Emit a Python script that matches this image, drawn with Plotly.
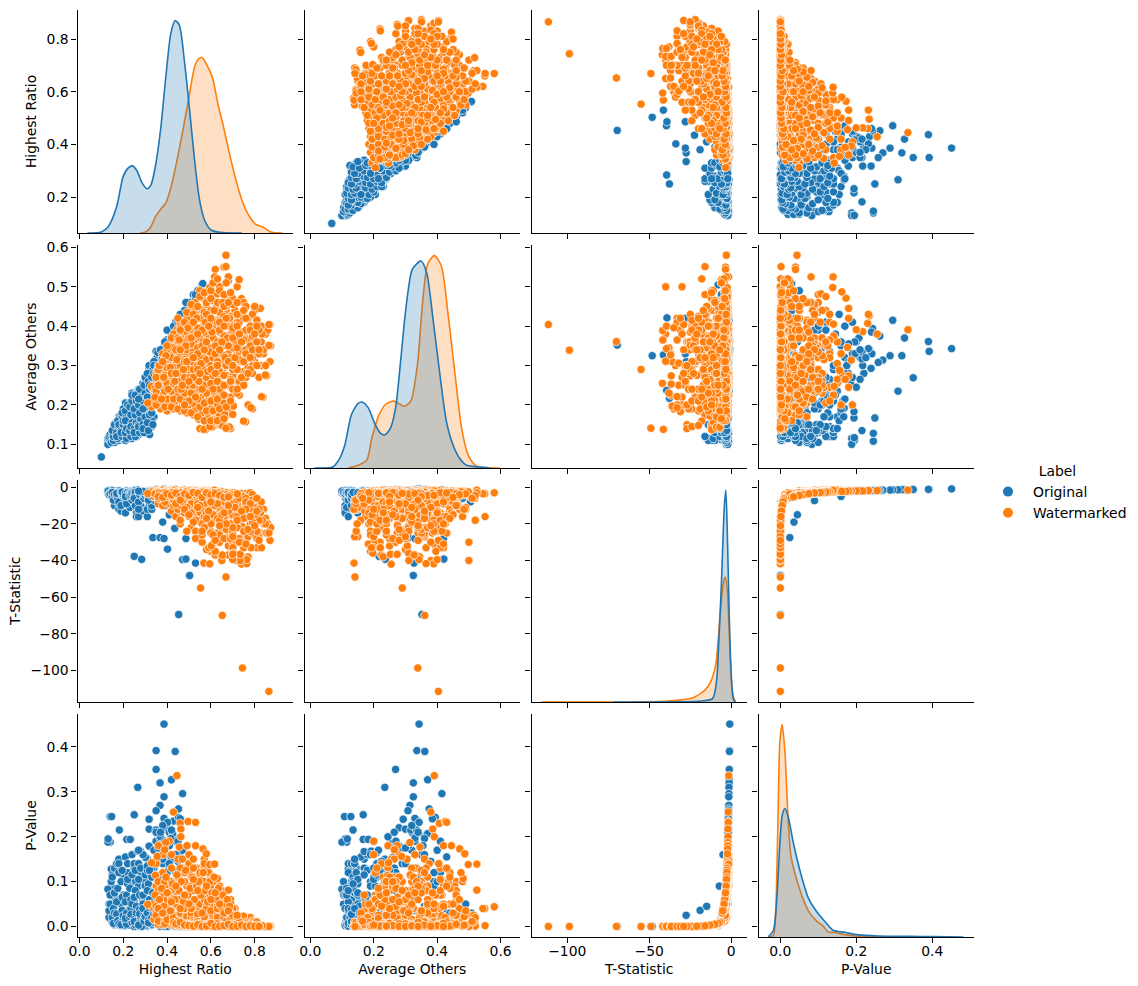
import plotly.graph_objects as go

# ---------- scatter values ----------
blue_highest = [
 .10,
 .13,.135,.14,.145,.135,.14,.15,.145,.13,.15,
 .16,.165,.17,.16,.17,.165,.16,.17,
 .18,.19,.20,.19,.18,.20,.19,.18,.20,.19,.18,
 .21,.22,.23,.22,.21,.23,.22,.21,.23,.22,.21,.23,
 .24,.25,.26,.25,.24,.26,.25,.24,.26,.25,.24,.26,
 .27,.28,.29,.28,.27,.29,.28,.27,.29,.28,.27,.29,
 .30,.31,.32,.31,.30,.32,.31,.30,.32,.31,.30,.32,
 .33,.34,.35,.34,.33,.35,.33,.34,.35,
 .36,.38,.40,.42,.44,.37,.39,.41,.43,.45,.38,.40,.42,.44,.36,.46,.39,.41,.43,.47,.48,.50,.52,.54,.56,.49,.51,.53,
 .386,.35,.437,.35,.42,.368,.266,.471,.386,.368,.452,.35,.25,.147,.452,.386,.318,.402,.318,.35,.182,.425,.417,.368,.216,.232,.13,.131,.318,.266,.301,
 .25,.284,.335,.368,.386,.402,.435,.486,.471,.486,.53,.503,.453,.38,.41,.43,.39,
 .563,.53,.486,.46,.44,.415,.39,.358,.34,.319,.30,.27,.25,.23,.20,.18,.16,
 .14,.135,.145,.14,
 .155,.15,.16,.155,.15,.16,
 .175,.17,.18,.175,.17,.18,
 .195,.19,.20,.195,.19,.20,.195,
 .215,.21,.22,.215,.21,.22,.215,.21,
 .235,.23,.24,.235,.23,.24,.235,.24,
 .255,.25,.26,.255,.25,.26,.255,.25,
 .275,.27,.28,.275,.27,.28,.275,.27,
 .295,.29,.30,.295,.29,.30,.295,.29,.30,
 .315,.31,.32,.315,.31,.32,.315,.31,
 .335,.33,.34,.335,.33,.34,
 .36,.38,.40,.34,.37,.39,.41,.35,.42,.44,.38,.36,.33,.31,.40,.43,.45,.35,.29,.27,.32,.37,.46,.41,
]
blue_others = [
 .068,
 .11,.105,.115,.12,.118,.108,.13,.125,.10,.112,
 .11,.125,.135,.145,.12,.155,.105,.115,
 .11,.125,.14,.155,.17,.185,.115,.13,.15,.165,.145,
 .11,.12,.13,.145,.16,.175,.19,.205,.115,.14,.18,.16,
 .115,.13,.15,.165,.18,.195,.21,.23,.12,.14,.20,.175,
 .125,.14,.155,.17,.185,.20,.22,.24,.13,.16,.21,.255,
 .13,.14,.16,.18,.20,.22,.245,.265,.125,.15,.19,.28,
 .145,.17,.20,.23,.26,.29,.16,.21,.31,
 .32,.29,.27,.30,.33,.28,.31,.335,.36,.38,.345,.365,.39,.41,.30,.43,.28,.32,.34,.40,.44,.46,.48,.49,.505,.42,.45,.47,
 .343,.336,.361,.269,.37,.325,.235,.415,.325,.314,.375,.308,.167,.128,.394,.33,.293,.343,.30,.317,.135,.37,.36,.33,.167,.183,.10,.117,.28,.192,.26,
 .217,.237,.29,.31,.33,.306,.37,.42,.314,.421,.327,.325,.352,.33,.36,.39,.35,
 .508,.48,.46,.43,.41,.386,.36,.333,.31,.269,.27,.235,.225,.205,.19,.165,.15,
 .11,.12,.105,.125,
 .11,.125,.14,.12,.135,.15,
 .115,.13,.145,.16,.12,.15,
 .12,.135,.15,.17,.13,.16,.18,
 .115,.13,.15,.17,.185,.20,.14,.16,
 .12,.135,.155,.175,.195,.21,.145,.225,
 .12,.14,.155,.175,.19,.21,.225,.13,
 .13,.15,.165,.18,.20,.22,.24,.145,
 .13,.15,.17,.19,.21,.23,.25,.14,.27,
 .135,.155,.175,.195,.22,.24,.26,.28,
 .15,.18,.21,.24,.27,.30,
 .21,.235,.255,.28,.245,.27,.30,.225,.335,.36,.32,.30,.20,.22,.39,.40,.41,.265,.19,.215,.25,.34,.385,.355,
]
blue_tstat = [
 None,
 -1.8,-3.5,-1.9,-2.4,-4,-1.7,-2.6,-3,-3,-6,
 -10,-3,-4,-2.5,-2,-6,-3,-5,
 -12,-3,-2.5,-5,-2,-7,-13,-2.3,-3,-4,-9,
 -14,-2.5,-5,-3,-2.2,-8,-2.6,-4,-11,-2.4,-6,-3.5,
 -5,-2.5,-14,-3,-2.2,-9,-2.6,-4,-16,-2.3,-7,-3.5,
 -2.8,-10,-3,-2.2,-16,-4,-2.5,-6,-3.5,-7,-2.4,-13,
 -3,-2.3,-8,-16,-2.5,-5,-12,-2.2,-3.5,-6,-2.6,-9,
 -4,-2.4,-2,-7,-12,-3,-10,-2.6,-5,
 -2.2,-2.4,-2.6,-2.2,-2,-2.3,-2.1,-2.5,-2.1,-2.3,-2.7,-3,-2.9,-2.6,-3.2,-2.1,-2,-2,-1.9,-2.1,-4,-5,-6,-3,-8,-3.5,-2.7,-4.5,
 -.9,-1.1,-1.1,-1.2,-1.3,-1.3,-1.4,-1.4,-1.5,-1.5,-1.6,-1.6,-1.7,-1.7,-1.7,-1.7,-1.8,-1.8,-1.9,-1.9,-1.9,-2,-2,-2,-2,-2,-2.1,-2.1,-2.2,-2.3,-2.3,
 -37.7,-39.4,-27.5,-27.5,-28,-33.8,-22.4,-28,-39.5,-39.2,-41.4,-48.2,-69.5,-19,-15,-7.3,-5,
 -5,-6,-3.5,-8,-2.8,-4,-10,-3,-7,-2.8,-2.5,-4,-3,-2.5,-4.5,-6,-3,
 -3,-4,-2.8,-3.5,
 -3.5,-5,-3,-7,-2.8,-4,
 -3,-4.5,-2.7,-6,-3.3,-8,
 -3.6,-2.7,-5,-3,-10,-4,-2.6,
 -3,-6,-2.7,-4,-3.2,-2.8,-9,-5,
 -3.5,-2.7,-7,-3,-4.5,-2.6,-4,-3.2,
 -2.8,-5,-3.2,-10,-3,-4,-2.7,-6,
 -3.4,-2.7,-5,-3,-8,-2.6,-4,-12,
 -4,-3,-2.7,-5,-3.2,-2.8,-6,-3.4,-4.5,
 -2.8,-4,-3,-5.5,-2.6,-3.4,-7,-2.9,
 -3,-5,-2.5,-3.5,-2.7,-4,
 -2.2,-2.3,-2.1,-2.2,-2,-2.1,-2.3,-2.4,-2,-2.2,-1.9,-2.3,-2.6,-2.5,-2.4,-2.6,-2,-1.9,-2.2,-2.1,-2.4,-1.9,-1.8,-2.1,
]
blue_pvalue = [
 None,
 .195,.05,.188,.128,.02,.245,.115,.09,.083,.009,
 .004,.06,.025,.13,.14,.012,.07,.02,
 .003,.05,.11,.018,.15,.009,.002,.14,.07,.03,.005,
 .002,.12,.02,.06,.155,.007,.10,.03,.003,.14,.012,.04,
 .02,.10,.002,.05,.16,.005,.13,.03,.001,.14,.01,.04,
 .09,.004,.06,.167,.001,.025,.12,.012,.04,.008,.14,.002,
 .06,.15,.007,.001,.11,.02,.003,.13,.03,.011,.09,.005,
 .03,.13,.19,.01,.003,.05,.005,.11,.02,
 .17,.14,.12,.15,.19,.16,.18,.13,.2,.145,.11,.09,.10,.12,.08,.155,.22,.21,.235,.17,.03,.02,.015,.05,.007,.04,.09,.025,
 .451,.392,.39,.35,.327,.32,.31,.296,.289,.27,.262,.258,.249,.245,.243,.241,.239,.232,.217,.215,.215,.207,.196,.197,.194,.194,.188,.195,.179,.168,.154,
 .0001,.0001,.025,.0005,.0004,.0002,.0006,.0004,.0001,.0001,.0001,.0001,.0001,.036,.045,.09,.16,
 .03,.02,.05,.008,.07,.03,.005,.06,.009,.08,.1,.03,.06,.09,.02,.01,.05,
 .07,.035,.10,.05,
 .04,.02,.075,.007,.11,.03,
 .085,.028,.12,.013,.055,.006,
 .036,.10,.017,.065,.004,.024,.125,
 .07,.011,.095,.03,.055,.105,.005,.018,
 .04,.085,.009,.06,.022,.115,.027,.05,
 .08,.016,.045,.004,.065,.03,.125,.011,
 .038,.105,.018,.07,.006,.13,.028,.003,
 .027,.07,.115,.016,.05,.09,.012,.04,.022,
 .095,.03,.06,.014,.125,.042,.008,.08,
 .075,.02,.14,.04,.11,.027,
 .165,.15,.185,.17,.20,.19,.14,.145,.215,.16,.225,.175,.13,.135,.12,.10,.19,.21,.16,.17,.125,.21,.24,.18,
]

orange_highest = [
 .33,.34,.35,.34,.36,.35,.36,
 .37,.38,.38,.39,.37,.38,.39,.38,
 .40,.41,.42,.41,.40,.42,.41,.40,.42,
 .43,.44,.45,.44,.43,.45,.44,.43,.45,.44,
 .46,.47,.48,.47,.46,.48,.47,.46,.48,.47,.46,
 .49,.50,.51,.50,.49,.51,.50,.49,.51,.50,.49,.51,
 .52,.53,.54,.53,.52,.54,.53,.52,.54,.53,.52,.54,.53,
 .55,.56,.57,.56,.55,.57,.56,.55,.57,.56,.55,.57,.56,.55,
 .58,.59,.60,.59,.58,.60,.59,.58,.60,.59,.58,.60,.59,.58,.60,
 .61,.62,.63,.62,.61,.63,.62,.61,.63,.62,.61,.63,.62,.61,.63,
 .64,.65,.66,.65,.64,.66,.65,.64,.66,.65,.64,.66,.65,.64,.66,
 .67,.68,.69,.68,.67,.69,.68,.67,.69,.68,.67,.69,.68,
 .70,.71,.72,.71,.70,.72,.71,.70,.72,.71,.70,.72,
 .73,.74,.75,.74,.73,.75,.74,.73,.75,.74,
 .76,.77,.78,.77,.76,.78,.77,.76,.78,
 .79,.80,.81,.80,.79,.81,.80,.79,
 .82,.83,.84,.83,.85,.84,.86,.87,.85,.83,
 .838,.855,.79,.758,.69,.576,.604,.627,.608,.544,.67,.70,.873,.87,.669,.669,.62,.568,.595,.618,.652,.684,.749,.638,.664,.70,.703,.77,.783,.831,.849,.865,.865,.826,.729,
 .553,.652,.744,.669,.595,.764,.764,.734,.70,.652,.62,.602,.734,.70,
 .445,.429,.46,.496,.53,.463,.463,.394,.36,.389,.355,.329,.347,.312,.456,.491,.53,.564,.579,.595,.617,.63,.68,.749,.834,
 .35,.36,.35,.36,.35,.36,
 .39,.40,.39,.40,.39,.40,.39,.40,
 .42,.43,.42,.43,.42,.43,.42,.43,.42,
 .45,.46,.45,.46,.45,.46,.45,.46,.45,.46,.45,
 .48,.49,.48,.49,.48,.49,.48,.49,.48,.49,.48,.49,
 .51,.52,.51,.52,.51,.52,.51,.52,.51,.52,.51,.52,.51,
 .54,.55,.54,.55,.54,.55,.54,.55,.54,.55,.54,.55,.54,.55,
 .57,.58,.57,.58,.57,.58,.57,.58,.57,.58,.57,.58,.57,.58,.57,
 .60,.61,.60,.61,.60,.61,.60,.61,.60,.61,.60,.61,.60,.61,.60,.61,
 .63,.64,.63,.64,.63,.64,.63,.64,.63,.64,.63,.64,.63,.64,.63,
 .66,.67,.66,.67,.66,.67,.66,.67,.66,.67,.66,.67,.66,.67,
 .69,.70,.69,.70,.69,.70,.69,.70,.69,.70,.69,
 .72,.73,.72,.73,.72,.73,.72,.73,.72,
 .75,.76,.75,.76,.75,.76,.75,.76,
 .78,.79,.78,.79,.78,.79,
 .81,.82,.81,.82,.81,
 .345,.365,.375,.385,.395,.405,.415,.425,.435,.445,.455,.465,.475,.485,.495,.505,.515,.525,.535,.545,.555,.565,.575,.585,.595,.605,.615,.625,.635,.645,.655,.665,.675,.685,
 .36,.38,.40,.42,.44,.46,.48,.50,.52,.54,.56,.58,.60,.62,.64,.66,.68,
 .50,.52,.54,.56,.58,.60,.62,.64,.66,.68,.70,.72,.74,.76,.78,.80,
 .47,.49,.51,.53,.55,.57,.59,.61,.63,.65,.67,.69,.71,.73,.75,.77,.79,.81,
 .44,.46,.48,.50,.52,.54,.56,.58,.60,.62,.64,.66,.68,.70,.72,.74,.76,.78,.80,.82,
]
orange_others = [
 .195,.21,.225,.24,.26,.28,.20,
 .19,.205,.225,.245,.265,.285,.31,.33,
 .185,.20,.22,.24,.26,.28,.30,.325,.35,
 .19,.21,.23,.25,.27,.29,.31,.335,.36,.385,
 .185,.205,.225,.245,.265,.285,.305,.33,.355,.38,.41,
 .18,.20,.22,.24,.26,.28,.30,.325,.35,.375,.40,.44,
 .175,.19,.21,.23,.255,.275,.295,.32,.34,.365,.39,.42,.46,
 .14,.18,.20,.22,.245,.265,.285,.31,.33,.355,.38,.405,.44,.49,
 .15,.17,.19,.215,.24,.26,.28,.30,.325,.35,.37,.395,.42,.455,.50,
 .145,.175,.20,.225,.25,.27,.295,.32,.34,.365,.39,.415,.445,.48,.52,
 .15,.18,.205,.23,.255,.28,.305,.33,.355,.38,.405,.43,.46,.50,.55,
 .145,.19,.22,.25,.275,.30,.33,.355,.38,.41,.44,.47,.515,
 .20,.235,.26,.285,.31,.335,.36,.385,.41,.44,.47,.50,
 .225,.255,.285,.31,.335,.36,.385,.41,.44,.47,
 .27,.295,.32,.345,.37,.395,.42,.45,.35,
 .28,.31,.335,.36,.385,.41,.44,.30,
 .27,.30,.33,.36,.38,.34,.39,.31,.30,.40,
 .22,.274,.19,.157,.14,.1375,.144,.157,.183,.164,.174,.20,.35,.404,.551,.58,.544,.138,.145,.159,.148,.144,.159,.172,.176,.176,.197,.20,.193,.221,.276,.351,.404,.445,.518,
 .29,.361,.339,.141,.389,.365,.343,.311,.40,.327,.396,.306,.253,.274,
 .391,.38,.407,.426,.43,.386,.391,.314,.274,.265,.288,.247,.244,.205,.346,.42,.445,.471,.487,.498,.525,.482,.525,.46,.38,
 .20,.215,.235,.25,.27,.29,
 .195,.215,.235,.255,.275,.295,.32,.34,
 .195,.215,.235,.255,.275,.295,.32,.345,.37,
 .19,.215,.24,.26,.28,.30,.32,.345,.37,.395,.42,
 .185,.21,.23,.25,.27,.295,.315,.34,.36,.385,.41,.435,
 .18,.205,.23,.25,.27,.29,.31,.335,.355,.38,.405,.43,.455,
 .17,.195,.215,.24,.26,.28,.30,.32,.345,.37,.395,.42,.45,.475,
 .16,.185,.205,.23,.25,.27,.29,.315,.34,.36,.385,.41,.435,.46,.485,
 .16,.185,.21,.235,.255,.275,.30,.32,.345,.37,.39,.415,.44,.465,.49,.51,
 .16,.19,.215,.24,.26,.285,.31,.335,.36,.385,.41,.435,.46,.49,.52,
 .165,.195,.225,.25,.275,.30,.325,.35,.375,.40,.425,.45,.48,.51,
 .21,.24,.265,.29,.32,.345,.37,.395,.425,.455,.485,
 .23,.26,.29,.315,.345,.37,.40,.43,.46,
 .25,.28,.31,.34,.365,.39,.42,.45,
 .29,.32,.35,.375,.40,.43,
 .30,.33,.36,.39,.415,
 .22,.30,.215,.27,.325,.24,.295,.345,.26,.315,.365,.24,.29,.35,.395,.27,.325,.375,.42,.26,.305,.36,.41,.285,.335,.385,.44,.30,.35,.40,.46,.32,.37,.42,
 .25,.31,.35,.28,.34,.39,.31,.37,.41,.29,.35,.43,.47,.33,.39,.45,.35,
 .21,.27,.33,.39,.23,.29,.35,.41,.25,.31,.37,.43,.27,.33,.39,.45,
 .25,.31,.37,.22,.28,.34,.40,.24,.30,.36,.42,.26,.32,.38,.44,.28,.34,.40,
 .28,.34,.20,.26,.32,.38,.24,.36,.42,.28,.34,.40,.46,.30,.24,.36,.42,.32,.38,.34,
]
orange_tstat = [
 -2,-5,-1.5,-3,-7,-2.5,-9,
 -4,-2,-10,-1.5,-6,-2.5,-3,-1.5,
 -8,-2,-13,-2.5,-5,-1.5,-9,-3,-2,
 -5,-16,-2,-3,-1.5,-11,-2.5,-7,-1.5,-4,
 -20,-2.5,-6,-1.8,-13,-3,-2,-18,-1.5,-4,-2.5,
 -9,-1.8,-22,-3,-7,-1.5,-16,-2.5,-5,-1.6,-24,-2,
 -3,-24,-2,-12,-1.6,-6,-28,-2.5,-10,-1.7,-4,-18,-2.2,
 -7,-7,-2.2,-30,-3,-1.6,-14,-4,-2,-26,-8,-1.8,-3,-12,
 -12,-2.6,-35,-5,-20,-2,-9,-34,-3,-2,-16,-6,-33,-2.2,-4,
 -8,-3,-10,-37,-2.5,-14,-6,-2.2,-25,-4,-31,-2.4,-8,-2,-18,
 -27,-6,-2.8,-38,-11,-3,-22,-2.6,-7,-40,-4,-15,-2.4,-30,-3.5,
 -12,-26,-2.6,-32,-8,-3,-37,-5,-3.2,-18,-2.7,-12,-4,
 -30,-6,-16,-3,-36,-9,-3.5,-25,-5,-13,-3,-40,
 -8,-42,-4,-21,-6,-27,-3.5,-14,-7,-5,
 -28,-5,-14,-38,-7,-20,-9,-3.5,-3,
 -10,-22,-8,-26,-6,-33,-11,-4,
 -14,-8,-20,-25,-17,-12,-20,-22,-25,-8,
 -19,-25,-14,-11,-27,-12,-9,-6,-31,-4,-16,-33,-22,-29,-16,-3,-3.5,-41.4,-24,-18,-20,-7,-5,-13,-10,-8,-36,-27,-33,-33,-20,-25,-111.5,-14,-6,
 -55,-70,-98.7,-49,-41.8,-41.7,-39.5,-40,-39.5,-37,-35,-32,-36.6,-36.6,
 -1.5,-1.8,-1.9,-1.8,-1.8,-2,-2,-2.1,-2.2,-2.2,-2.3,-2.5,-2.6,-3.4,-2.2,-2.1,-2.1,-2.2,-2.3,-2.5,-1.6,-2.7,-3,-5,-18,
 -3,-2.5,-4,-6,-3.5,-2.7,
 -6,-3,-2.6,-4.5,-8,-3,-2.8,-5,
 -3.5,-10,-2.7,-6,-3,-4.5,-2.5,-7,-3,
 -12,-4,-3,-8,-2.6,-5,-3,-10,-2.8,-4,-6,
 -14,-3,-6,-4,-2.7,-10,-3.5,-6,-2.6,-4.5,-3,-8,
 -5,-3,-8,-2.6,-4,-12,-3,-5.5,-2.8,-7,-3.5,-2.5,-9,
 -9,-3.5,-5,-14,-2.7,-6,-3,-18,-4,-2.6,-10,-3.2,-6,-2.5,
 -5,-3,-16,-8,-3.5,-2.8,-12,-5,-3,-22,-6,-3.4,-2.7,-9,-4,
 -3.5,-7,-24,-3,-11,-5,-2.9,-15,-7,-3.2,-20,-4.5,-2.7,-10,-3.6,-6,
 -5,-19,-3.2,-9,-4,-26,-3.4,-12,-5.5,-3,-17,-7,-3,-11,-4.5,
 -6,-15,-3.3,-10,-21,-4,-13,-3.5,-8,-23,-4.5,-3,-16,-6,
 -20,-4,-13,-24,-5,-15,-3.6,-9,-20,-4,-12,
 -12,-28,-7,-18,-4,-12,-22,-6,-3.6,
 -17,-9,-24,-11,-33,-6,-16,-8,
 -17,-7,-23,-13,-9,-25,
 -28,-12,-6,-18,-24,
 -3.6,-3,-3.3,-4.2,-2.8,-3.4,-4.5,-2.9,-3.8,-2.7,-3.2,-3,-4,-2.6,-3.5,-3.2,-2.8,-3.9,-3,-2.9,-3.6,-2.7,-3.3,-4.1,-3,-3.4,-2.8,-3.8,-3.1,-4.4,-3.5,-4.2,-3.9,-4.6,
 -5,-5.5,-3.6,-4.3,-3.2,-5,-3.7,-4.5,-2.9,-3.3,-5.6,-3.1,-4,-3.5,-4.4,-5.5,-5.2,
 -12,-16,-9,-20,-14,-25,-10,-18,-28,-13,-22,-16,-30,-12,-24,-15,
 -8,-11,-14,-18,-10,-22,-13,-26,-9,-15,-20,-28,-11,-30,-17,-23,-19,-13,
 -9,-7,-12,-15,-19,-11,-24,-17,-8,-29,-21,-14,-10,-27,-18,-13,-31,-16,-21,-29,
]
orange_pvalue = [
 .05,.015,.14,.04,.01,.09,.005,
 .02,.12,.004,.18,.012,.07,.03,.16,
 .007,.19,.003,.06,.02,.16,.006,.04,.10,
 .018,.002,.11,.05,.09,.003,.08,.009,.15,.025,
 .001,.07,.012,.13,.003,.04,.15,.001,.12,.02,.13,
 .006,.16,.0005,.05,.01,.11,.002,.09,.017,.14,.0005,.12,
 .04,.0005,.13,.004,.15,.014,.0003,.08,.005,.13,.022,.001,.10,
 .01,.01,.06,.0002,.035,.15,.003,.02,.13,.0005,.008,.14,.05,.004,
 .004,.07,.0002,.016,.001,.11,.006,.0002,.04,.12,.002,.012,.0002,.09,.026,
 .008,.05,.005,.0001,.08,.003,.014,.11,.0004,.03,.0002,.07,.008,.10,.001,
 .0003,.012,.06,.0001,.004,.045,.0006,.09,.01,.0001,.03,.002,.08,.0002,.04,
 .002,.0004,.06,.0002,.008,.05,.0001,.018,.035,.001,.05,.003,.025,
 .0002,.012,.002,.04,.0001,.006,.03,.0005,.015,.003,.04,.0001,
 .008,.0001,.02,.0008,.012,.0003,.02,.003,.009,.016,
 .0003,.015,.002,.0001,.008,.0006,.005,.018,.02,
 .004,.0005,.005,.0003,.01,.0001,.003,.012,
 .001,.002,.0003,.0002,.0005,.001,.0003,.0002,.0001,.002,
 .0008,.0002,.001,.003,.0003,.002,.005,.012,.0002,.02,.001,.0002,.0002,.0001,.002,.044,.04,.0001,.0005,.001,.0008,.009,.015,.002,.004,.006,.0001,.0002,.0001,.0001,.0003,.0001,.0001,.001,.012,
 .0001,.0001,.0001,.0001,.0001,.0001,.0001,.0001,.0001,.0001,.0001,.0001,.0001,.0001,
 .336,.255,.23,.234,.232,.217,.2,.187,.18,.171,.156,.142,.114,.049,.177,.18,.18,.173,.162,.138,.139,.107,.081,.023,.002,
 .03,.08,.025,.012,.045,.10,
 .012,.05,.09,.02,.006,.06,.10,.015,
 .035,.005,.10,.012,.065,.02,.13,.009,.08,
 .003,.025,.07,.007,.11,.015,.06,.004,.09,.03,.012,
 .002,.055,.012,.03,.10,.004,.04,.011,.12,.022,.07,.006,
 .02,.06,.006,.11,.03,.003,.05,.014,.09,.009,.04,.13,.005,
 .005,.04,.018,.002,.09,.012,.055,.001,.027,.11,.004,.05,.011,.12,
 .016,.05,.001,.006,.035,.09,.003,.014,.06,.0005,.011,.04,.1,.005,.022,
 .03,.009,.0005,.06,.004,.018,.08,.002,.008,.045,.0008,.024,.085,.004,.035,.012,
 .015,.001,.05,.005,.025,.0003,.04,.003,.012,.07,.001,.008,.065,.003,.02,
 .012,.002,.045,.004,.0007,.025,.002,.035,.006,.0005,.02,.05,.001,.011,
 .001,.025,.002,.0005,.016,.002,.03,.005,.0008,.024,.003,
 .003,.0003,.008,.001,.02,.003,.0006,.01,.025,
 .001,.005,.0005,.004,.0002,.01,.001,.006,
 .001,.008,.0005,.002,.005,.0003,
 .0002,.002,.01,.001,.0004,
 .07,.06,.085,.045,.11,.075,.035,.095,.06,.115,.08,.10,.055,.125,.07,.085,.11,.06,.09,.10,.07,.12,.08,.055,.10,.075,.11,.06,.085,.045,.07,.05,.06,.045,
 .04,.03,.075,.055,.09,.04,.07,.05,.105,.08,.03,.09,.06,.075,.05,.03,.035,
 .003,.0015,.006,.0007,.002,.0002,.005,.001,.0002,.003,.0005,.0015,.0001,.003,.0003,.002,
 .007,.004,.002,.001,.005,.0005,.003,.0002,.006,.002,.0007,.0002,.004,.0001,.001,.0004,.0008,.003,
 .006,.009,.003,.002,.0008,.004,.0003,.001,.007,.0002,.0005,.002,.005,.0002,.001,.003,.0001,.0015,.0005,.0002,
]

# ---------- density curves on the diagonal (height relative to the tallest curve) ----------
kde_highest_x_blue = [.036,.10,.131,.17,.20,.224,.242,.263,.286,.309,.327,.347,.371,.394,.417,.437,.456,.479,.502,.525,.548,.571,.602,.656,.741]
kde_highest_y_blue = [0,.005,.029,.125,.268,.308,.316,.292,.236,.208,.228,.316,.492,.732,.939,1,.979,.812,.588,.348,.157,.061,.013,.002,0]
kde_highest_x_orange = [.278,.301,.324,.347,.371,.394,.417,.44,.471,.502,.525,.544,.559,.579,.607,.633,.656,.68,.71,.741,.772,.803,.842,.873,.927]
kde_highest_y_orange = [0,.005,.026,.077,.112,.141,.212,.316,.476,.652,.78,.82,.826,.796,.732,.604,.508,.396,.268,.157,.085,.042,.026,.005,0]

kde_others_x_blue = [.013,.071,.093,.109,.13,.151,.165,.183,.205,.221,.235,.253,.269,.285,.301,.322,.349,.367,.386,.407,.429,.45,.471,.493,.557,.567]
kde_others_y_blue = [0,.005,.045,.108,.252,.304,.31,.283,.204,.164,.156,.188,.283,.506,.745,.936,.975,.92,.713,.459,.22,.108,.045,.013,.002,0]
kde_others_x_orange = [.119,.151,.178,.194,.215,.237,.263,.279,.297,.317,.338,.354,.37,.391,.413,.434,.455,.477,.498,.525,.599]
kde_others_y_orange = [0,.013,.037,.14,.244,.299,.315,.304,.291,.315,.49,.777,.96,1,.952,.729,.459,.188,.061,.008,0]

kde_tstat_x_blue = [-72,-35,-18.6,-11.4,-9,-7.4,-6,-4.3,-3.3,-2.4,-1.2,0,1.2,2.4]
kde_tstat_y_blue = [0,.001,.005,.016,.096,.32,.56,.91,1,.8,.4,.13,.016,0]
kde_tstat_x_orange = [-116,-45,-30.5,-23.3,-16.2,-12.6,-9.5,-7.9,-6,-4.3,-3.6,-2.4,-.7,.5,2.1,2.9]
kde_tstat_y_orange = [0,.002,.01,.02,.055,.095,.175,.30,.48,.58,.59,.525,.22,.06,.008,0]

kde_pvalue_x_blue = [-.032,-.018,-.01,-.001,.005,.012,.021,.034,.052,.074,.096,.118,.139,.17,.205,.258,.337,.398,.482]
kde_pvalue_y_blue = [0,.032,.159,.446,.573,.605,.565,.446,.311,.183,.119,.072,.032,.022,.01,.005,.003,.002,0]
kde_pvalue_x_orange = [-.027,-.018,-.012,-.007,-.001,.005,.012,.021,.028,.043,.061,.078,.096,.113,.126,.144,.17,.196,.24,.293]
kde_pvalue_y_orange = [0,.008,.127,.478,.924,1,.876,.541,.382,.271,.175,.111,.075,.051,.024,.021,.011,.005,.002,0]

# ---------- labels, ticks ----------
variables = ["Highest Ratio", "Average Others", "T-Statistic", "P-Value"]
legend_title = "Label"
class_names = ["Original", "Watermarked"]
x_ticks = [[0.0, 0.2, 0.4, 0.6, 0.8], [0.0, 0.2, 0.4, 0.6], [-100, -50, 0], [0.0, 0.2, 0.4]]
x_tick_text = [["0.0", "0.2", "0.4", "0.6", "0.8"], ["0.0", "0.2", "0.4", "0.6"], ["−100", "−50", "0"], ["0.0", "0.2", "0.4"]]
y_ticks = [[0.2, 0.4, 0.6, 0.8], [0.1, 0.2, 0.3, 0.4, 0.5, 0.6], [-100, -80, -60, -40, -20, 0], [0.0, 0.1, 0.2, 0.3, 0.4]]
y_tick_text = [["0.2", "0.4", "0.6", "0.8"], ["0.1", "0.2", "0.3", "0.4", "0.5", "0.6"],
               ["−100", "−80", "−60", "−40", "−20", "0"], ["0.0", "0.1", "0.2", "0.3", "0.4"]]
x_ranges = [[-0.009, 0.975], [-0.018, 0.661], [-121.8, 9.6], [-0.0574, 0.51]]
y_ranges = [[0.064, 0.91], [0.04, 0.606], [-117.3, 4.26], [-0.0234, 0.4735]]

for col in (blue_others, blue_tstat, blue_pvalue):
    assert len(col) == len(blue_highest), len(col)
for col in (orange_others, orange_tstat, orange_pvalue):
    assert len(col) == len(orange_highest), len(col)

W, H = 1138, 986
col_px = [(77.5, 293), (304.5, 520), (531.5, 747), (758.5, 974)]
row_px = [(10, 233), (245, 468), (479.5, 702), (714, 937)]
BLUE, ORANGE = "#1f77b4", "#ff7f0e"
FONT = dict(family="DejaVu Sans", size=13.9, color="black")

blue_cols = [blue_highest, blue_others, blue_tstat, blue_pvalue]
orange_cols = [orange_highest, orange_others, orange_tstat, orange_pvalue]
kdes = [
    (kde_highest_x_blue, kde_highest_y_blue, kde_highest_x_orange, kde_highest_y_orange),
    (kde_others_x_blue, kde_others_y_blue, kde_others_x_orange, kde_others_y_orange),
    (kde_tstat_x_blue, kde_tstat_y_blue, kde_tstat_x_orange, kde_tstat_y_orange),
    (kde_pvalue_x_blue, kde_pvalue_y_blue, kde_pvalue_x_orange, kde_pvalue_y_orange),
]

fig = go.Figure()
layout = {}
axis_common = dict(showline=True, linecolor="black", linewidth=1.1, ticks="outside", ticklen=5,
                   tickwidth=1.1, tickcolor="black", showgrid=False, zeroline=False, mirror=False,
                   tickfont=FONT, automargin=False)

for r in range(4):
    for c in range(4):
        i = r * 4 + c + 1
        xname, yname = f"x{i}", f"y{i}"
        layout[f"xaxis{i}"] = dict(
            axis_common, domain=[col_px[c][0] / W, col_px[c][1] / W], range=x_ranges[c],
            anchor=yname, tickmode="array", tickvals=x_ticks[c], ticktext=x_tick_text[c],
            showticklabels=r == 3, ticklabelstandoff=-4,
            title=dict(text=variables[c], font=FONT, standoff=6) if r == 3 else None)
        layout[f"yaxis{i}"] = dict(
            axis_common, domain=[1 - row_px[r][1] / H, 1 - row_px[r][0] / H], range=y_ranges[r],
            anchor=xname, tickmode="array", tickvals=y_ticks[r], ticktext=y_tick_text[r],
            showticklabels=c == 0,
            title=dict(text=variables[r], font=FONT, standoff=6) if c == 0 else None)
        if r == c:
            # the row's own axis stays on show; the density curve sits on a hidden overlay axis
            fig.add_trace(go.Scatter(x=[None], y=[None], xaxis=xname, yaxis=yname, mode="markers",
                                     showlegend=False, hoverinfo="skip"))
            j = 17 + r
            layout[f"yaxis{j}"] = dict(domain=layout[f"yaxis{i}"]["domain"], range=[0, 1.05], visible=False,
                                       anchor=xname, overlaying=yname, fixedrange=True)
            bx, by, ox, oy = kdes[r]
            # orange is laid down first, so the overlap turns grey as in the reference
            for kx, ky, color, fill in ((ox, oy, ORANGE, "rgba(255,127,14,0.25)"), (bx, by, BLUE, "rgba(31,119,180,0.25)")):
                fig.add_trace(go.Scatter(x=kx, y=ky, xaxis=xname, yaxis=f"y{j}", mode="lines",
                                         line=dict(color=color, width=1.6, shape="spline", smoothing=0.7),
                                         fill="tozeroy", fillcolor=fill, showlegend=False, hoverinfo="skip"))
        else:
            for cols, color, name in ((blue_cols, BLUE, class_names[0]), (orange_cols, ORANGE, class_names[1])):
                fig.add_trace(go.Scatter(x=cols[c], y=cols[r], xaxis=xname, yaxis=yname, mode="markers", name=name,
                                         marker=dict(color=color, size=8.3, line=dict(color="white", width=0.7)),
                                         showlegend=(r == 0 and c == 1), cliponaxis=False))

fig.update_layout(
    width=W, height=H, margin=dict(l=0, r=0, t=0, b=0), paper_bgcolor="white", plot_bgcolor="white",
    font=FONT, hovermode=False,
    legend=dict(x=983 / W, y=1 - 458 / H, xanchor="left", yanchor="top", bgcolor="rgba(0,0,0,0)",
                title=dict(text=legend_title, font=FONT, side="top center"), font=FONT,
                itemsizing="constant", itemwidth=40, tracegroupgap=0),
    **layout)

fig.write_html("out.html", config={"displayModeBar": False},
               post_script="document.body.style.margin='0';")
